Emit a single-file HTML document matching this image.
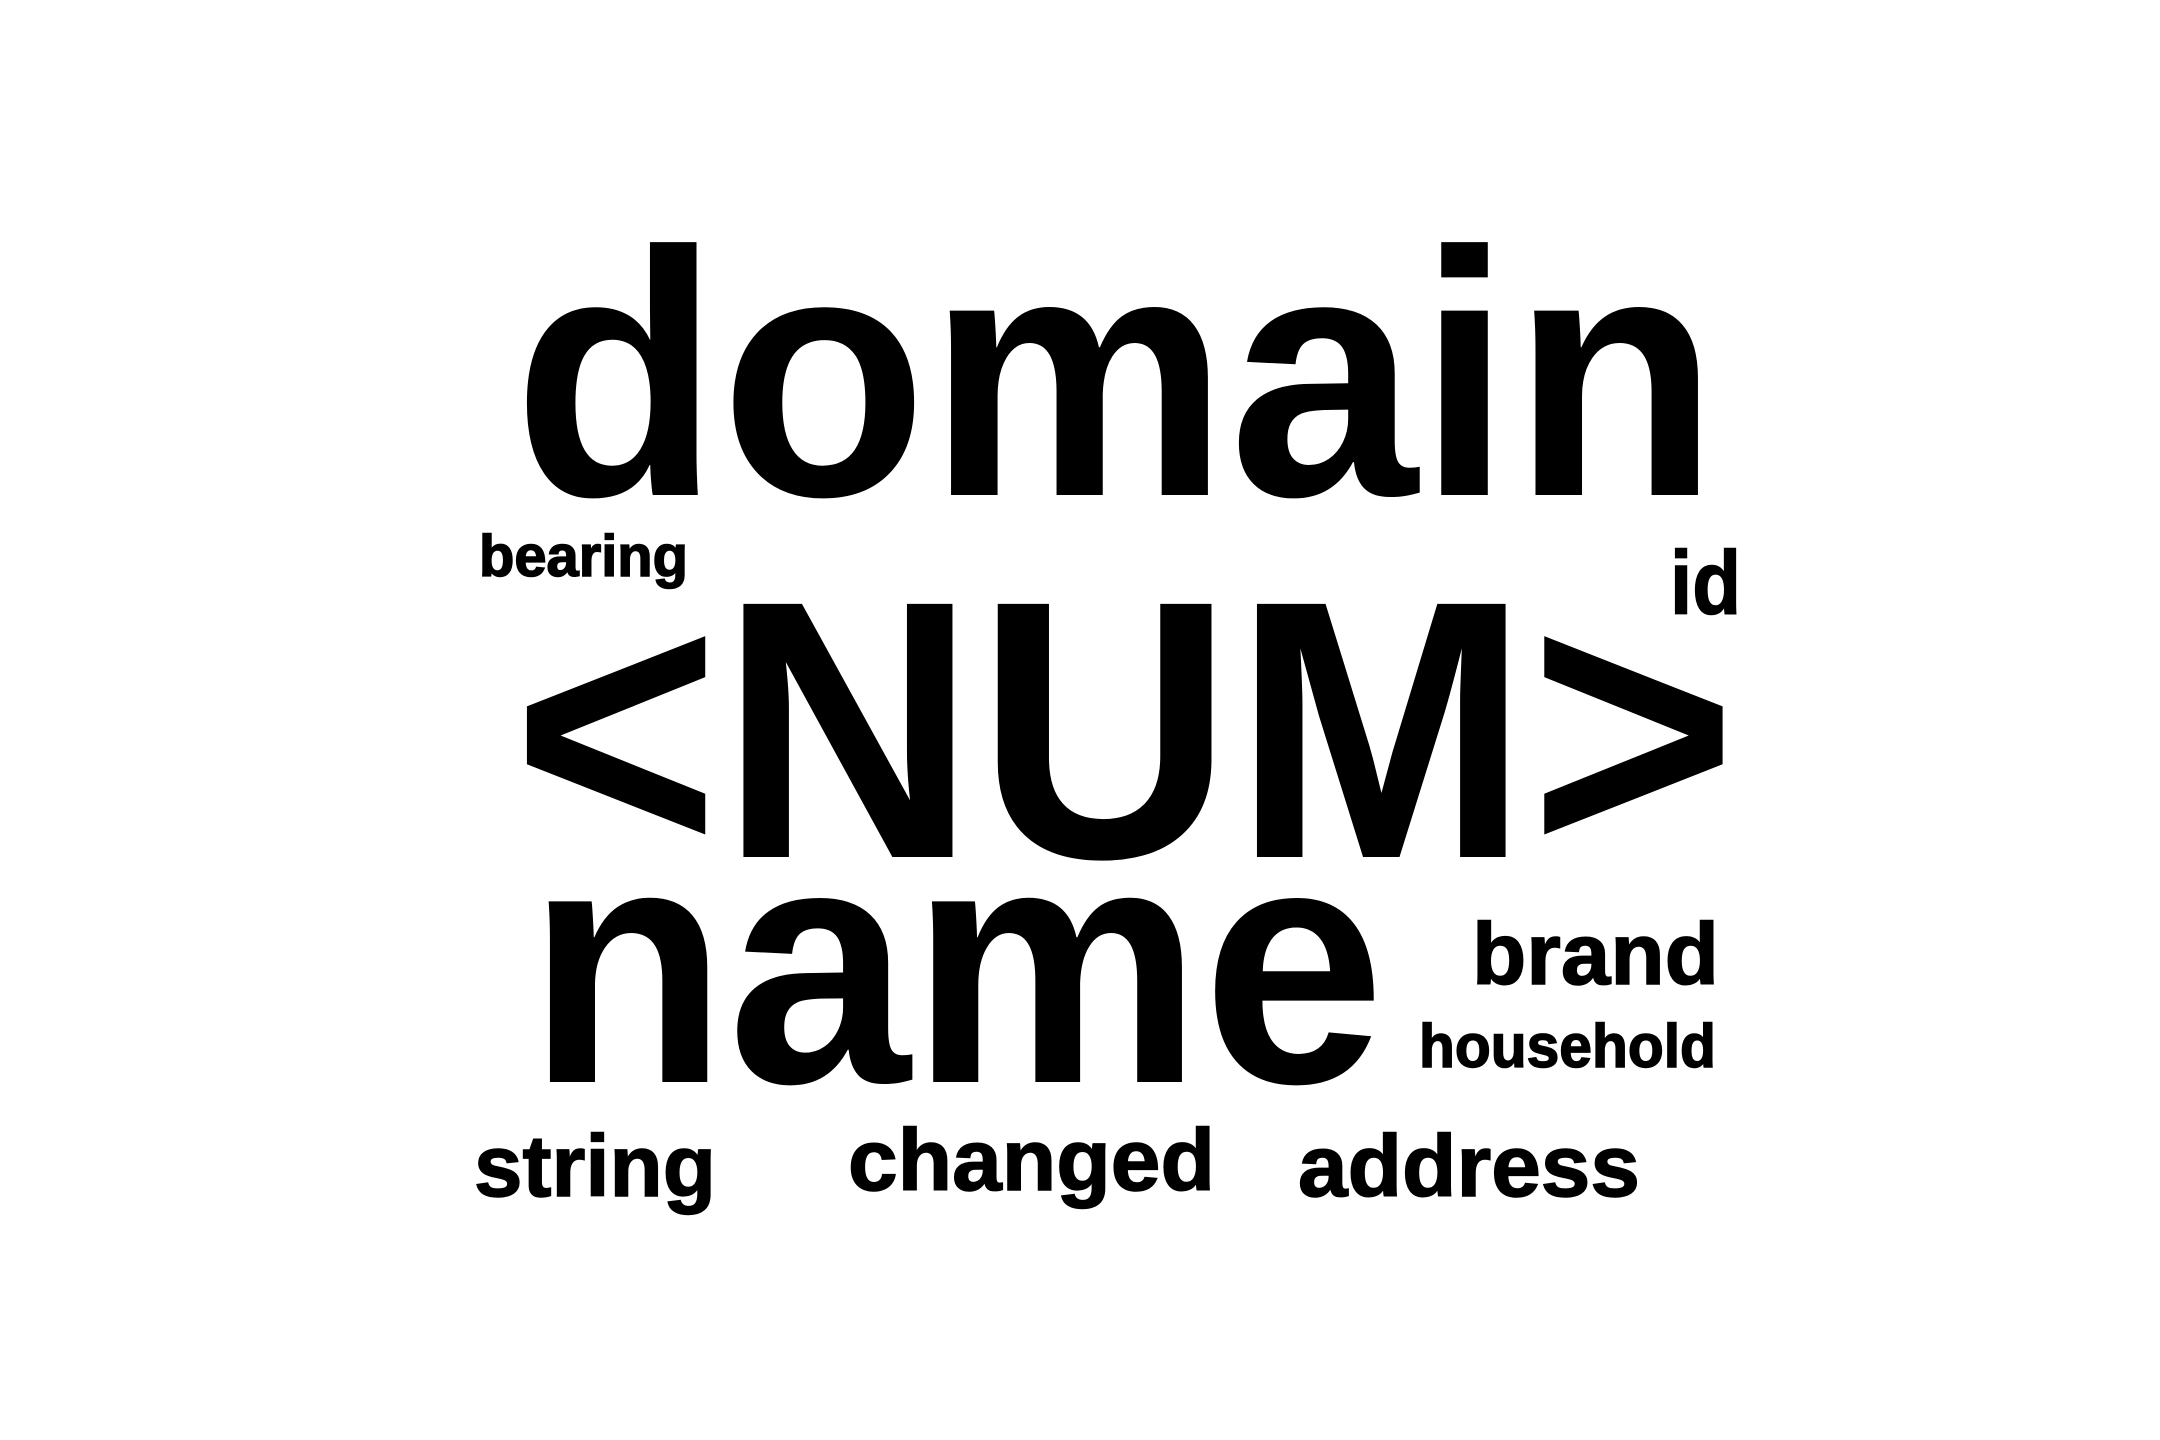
<!DOCTYPE html>
<html><head><meta charset="utf-8"><style>
html,body{margin:0;padding:0;background:#fff;width:2160px;height:1440px;overflow:hidden}
svg{display:block}
text{font-family:"Liberation Sans",sans-serif;font-weight:bold;fill:#000;stroke:#000}
</style></head><body>
<svg id="cloud" width="2160" height="1440" viewBox="0 0 2160 1440" xmlns="http://www.w3.org/2000/svg">
<rect width="2160" height="1440" fill="#fff" stroke="none"/>
</svg>
<script>
const words = ["domain","bearing","id","<NUM>","name","brand","household","string","changed","address"];
const weights = [349,58,90,368,342,87,61,87,87,87];
const layoutX = [513,479,1670,512,527,1472,1419,474,848,1298];
const layoutY = [495,576,614,857,1082,984,1067,1196,1190,1196];
const layoutW = [1206,209,71,1225,858,247,297,242,367,342];
const svg = document.getElementById('cloud');
const NS = 'http://www.w3.org/2000/svg';
words.forEach((w,i)=>{
  const t = document.createElementNS(NS,'text');
  t.setAttribute('x', 0);
  t.setAttribute('y', 0);
  t.setAttribute('font-size', weights[i]);
  t.setAttribute('stroke-width', weights[i] < 120 ? 1.5 : 0);
  t.textContent = w;
  
  
  svg.appendChild(t);
  const bb = t.getBBox();
  const sx = bb.width > 0 ? layoutW[i] / bb.width : 1;
  t.setAttribute('transform', 'translate(' + (layoutX[i] - bb.x * sx) + ',' + layoutY[i] + ') scale(' + sx + ',1)');
});
</script>
</body></html>
